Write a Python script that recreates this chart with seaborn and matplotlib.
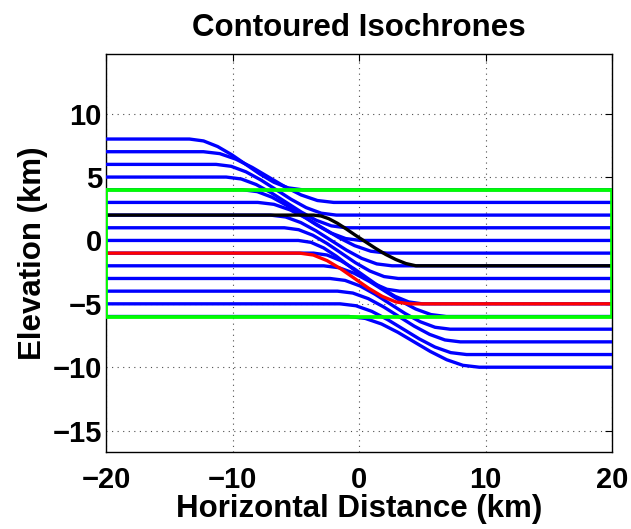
import matplotlib
matplotlib.use("Agg")
import matplotlib.pyplot as plt
import seaborn as sns
import pandas as pd

# ---------------- data ----------------
title = "Contoured Isochrones"
xlabel = "Horizontal Distance (km)"
ylabel = "Elevation (km)"
x_ticks = [-20, -10, 0, 10, 20]
y_ticks = [-15, -10, -5, 0, 5, 10]

# blue isochrones: knots (x, elevation) for each line, top to bottom
blue_x = [
    [-20, -13.4, -12.29, -11.18, -10.06, -8.95, -7.84, -6.73, -5.61, -4.5, 20],
    [-20, -12.3, -11.01, -9.73, -8.44, -7.15, -5.86, -4.58, -3.29, -2.0, 20],
    [-20, -11.3, -10.11, -8.93, -7.74, -6.55, -5.36, -4.18, -2.99, -1.8, 20],
    [-20, -10.5, -9.31, -8.13, -6.94, -5.75, -4.56, -3.38, -2.19, -1.0, 20],
    [-20, -9.2, -8.04, -6.88, -5.71, -4.55, -3.39, -2.23, -1.06, 0.1, 20],
    [-20, -8.0, -6.73, -5.45, -4.18, -2.9, -1.63, -0.35, 0.93, 2.2, 20],
    [-20, -7.0, -5.8, -4.6, -3.4, -2.2, -1.0, 0.2, 1.4, 2.6, 20],
    [-20, -5.9, -4.78, -3.65, -2.53, -1.4, -0.28, 0.85, 1.98, 3.1, 20],
    [-20, -4.8, -3.8, -2.8, -1.8, -0.8, 0.2, 1.2, 2.2, 3.2, 20],
    [-20, -3.6, -2.53, -1.45, -0.38, 0.7, 1.78, 2.85, 3.93, 5.0, 20],
    [-20, -2.8, -1.59, -0.38, 0.84, 2.05, 3.26, 4.48, 5.69, 6.9, 20],
    [-20, -2.3, -1.11, 0.08, 1.26, 2.45, 3.64, 4.83, 6.01, 7.2, 20],
    [-20, -1.7, -0.49, 0.73, 1.94, 3.15, 4.36, 5.58, 6.79, 8.0, 20],
    [-20, -1.5, -0.25, 1.0, 2.25, 3.5, 4.75, 6.0, 7.25, 8.5, 20],
    [-20, -0.8, 0.49, 1.78, 3.06, 4.35, 5.64, 6.93, 8.21, 9.5, 20],
]
blue_y = [
    [8, 8, 7.85, 7.41, 6.76, 6.0, 5.24, 4.59, 4.15, 4, 4],
    [7, 7, 6.85, 6.41, 5.76, 5.0, 4.24, 3.59, 3.15, 3, 3],
    [6, 6, 5.85, 5.41, 4.76, 4.0, 3.24, 2.59, 2.15, 2, 2],
    [5, 5, 4.85, 4.41, 3.76, 3.0, 2.24, 1.59, 1.15, 1, 1],
    [4, 4, 3.85, 3.41, 2.76, 2.0, 1.24, 0.59, 0.15, 0, 0],
    [3, 3, 2.85, 2.41, 1.76, 1.0, 0.24, -0.41, -0.85, -1, -1],
    [2, 2, 1.85, 1.41, 0.76, 0.0, -0.76, -1.41, -1.85, -2, -2],
    [1, 1, 0.85, 0.41, -0.24, -1.0, -1.76, -2.41, -2.85, -3, -3],
    [0, 0, -0.15, -0.59, -1.24, -2.0, -2.76, -3.41, -3.85, -4, -4],
    [-1, -1, -1.15, -1.59, -2.24, -3.0, -3.76, -4.41, -4.85, -5, -5],
    [-2, -2, -2.15, -2.59, -3.24, -4.0, -4.76, -5.41, -5.85, -6, -6],
    [-3, -3, -3.15, -3.59, -4.24, -5.0, -5.76, -6.41, -6.85, -7, -7],
    [-4, -4, -4.15, -4.59, -5.24, -6.0, -6.76, -7.41, -7.85, -8, -8],
    [-5, -5, -5.15, -5.59, -6.24, -7.0, -7.76, -8.41, -8.85, -9, -9],
    [-6, -6, -6.15, -6.59, -7.24, -8.0, -8.76, -9.41, -9.85, -10, -10],
]

# black reference isochrone
black_x = [-20, -3.6, -3.0, -2.4, -1.7, -1.0, -0.3, 0.5, 1.3, 2.1, 2.9, 3.7, 4.5, 20]
black_y = [2, 2, 1.93, 1.72, 1.35, 0.9, 0.42, -0.1, -0.62, -1.1, -1.5, -1.82, -2, -2]

# red isochrone
red_x = [-20, -4.7, -3.61, -2.53, -1.44, -0.35, 0.74, 1.83, 2.91, 4.0, 20]
red_y = [-1, -1, -1.15, -1.59, -2.24, -3.0, -3.76, -4.41, -4.85, -5, -5]

# green box outline
box_x = [-20, 20, 20, -20, -20]
box_y = [4, 4, -6, -6, 4]

# ---------------- build tables ----------------
rows = []
for i, (xs, ys) in enumerate(zip(blue_x, blue_y)):
    for xv, yv in zip(xs, ys):
        rows.append({"line": i, "x": xv, "y": yv})
blue_df = pd.DataFrame(rows)
black_df = pd.DataFrame({"x": black_x, "y": black_y, "line": 0})
red_df = pd.DataFrame({"x": red_x, "y": red_y, "line": 0})
box_df = pd.DataFrame({"x": box_x, "y": box_y, "line": 0})

# ---------------- plot ----------------
sns.set_style("white")
plt.rcParams["font.family"] = ["Liberation Sans", "DejaVu Sans"]
plt.rcParams["font.weight"] = "bold"
plt.rcParams["text.color"] = "black"
plt.rcParams["axes.labelcolor"] = "black"

fig = plt.figure(figsize=(6.31, 5.29), dpi=100)
ax = fig.add_axes([0.168, 0.146, 0.802, 0.751])

sns.lineplot(data=blue_df, x="x", y="y", units="line", estimator=None,
             sort=False, color="#0000ff", linewidth=2.4, ax=ax, zorder=3)
sns.lineplot(data=black_df, x="x", y="y", units="line", estimator=None,
             sort=False, color="black", linewidth=2.4, ax=ax, zorder=4)
sns.lineplot(data=red_df, x="x", y="y", units="line", estimator=None,
             sort=False, color="#ff0000", linewidth=2.4, ax=ax, zorder=5)
sns.lineplot(data=box_df, x="x", y="y", units="line", estimator=None,
             sort=False, color="#00ff00", linewidth=2.7, ax=ax, zorder=6)

ax.set_xlim(-20, 20)
ax.set_ylim(-16.67, 14.67)
ax.set_xticks(x_ticks)
ax.set_yticks(y_ticks)
ax.set_xticklabels([str(t).replace("-", "\u2212") for t in x_ticks])
ax.set_yticklabels([str(t).replace("-", "\u2212") for t in y_ticks])

ax.grid(True, linestyle=(0, (1, 4)), color="0.3", linewidth=0.8)
ax.set_axisbelow(True)
for sp in ax.spines.values():
    sp.set_visible(True)
    sp.set_color("black")
    sp.set_linewidth(1.0)
ax.tick_params(direction="in", length=5, width=0.8, top=True, right=True,
               labelsize=21, colors="black")
ax.tick_params(axis="y", pad=3)
ax.tick_params(axis="x", pad=10)
for lab in ax.get_xticklabels() + ax.get_yticklabels():
    lab.set_fontweight("bold")

ax.set_title(title, fontsize=22.5, fontweight="bold", pad=13, color="black")
ax.set_xlabel(xlabel, fontsize=22.5, fontweight="bold", labelpad=0, color="black")
ax.set_ylabel(ylabel, fontsize=22.5, fontweight="bold", labelpad=3, color="black")

fig.savefig("out.png", dpi=100)
